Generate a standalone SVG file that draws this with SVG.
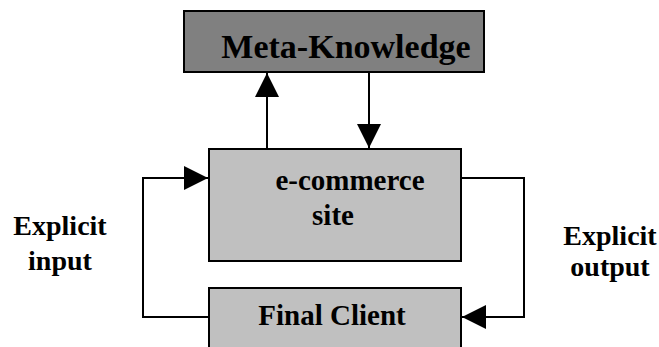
<svg xmlns="http://www.w3.org/2000/svg" width="659" height="347" viewBox="0 0 659 347">
<style>
.box{stroke:#000;stroke-width:2}
.t{font-family:"Liberation Serif","Times New Roman",serif;font-weight:bold;fill:#000;text-anchor:middle}
.c{fill:none;stroke:#000;stroke-width:2}
</style>
<defs>
<marker id="ah" viewBox="0 0 24 24" refX="24" refY="12" markerWidth="24" markerHeight="24" markerUnits="userSpaceOnUse" orient="auto">
<path d="M0,0 L24,12 L0,24 Z" fill="#000"/>
</marker>
</defs>
<rect width="659" height="347" fill="#fff"/>
<g id="connectors">
<path class="c" d="M267,148 V73" marker-end="url(#ah)"/>
<path class="c" d="M369,69 V148" marker-end="url(#ah)"/>
<path class="c" d="M209,317 H143 V178 H208" marker-end="url(#ah)"/>
<path class="c" d="M461,178 H524 V317 H462" marker-end="url(#ah)"/>
</g>
<g id="meta-knowledge">
<rect class="box" x="184" y="11" width="300" height="61" fill="#808080"/>
<text class="t" x="346" y="58" font-size="34">Meta-Knowledge</text>
</g>
<g id="ecommerce-site">
<rect class="box" x="209" y="149" width="252" height="112" fill="#c0c0c0"/>
<text class="t" x="350" y="190" font-size="29">e-commerce</text>
<text class="t" x="333" y="225" font-size="29">site</text>
</g>
<g id="final-client">
<rect class="box" x="209" y="288" width="252" height="70" fill="#c0c0c0"/>
<text class="t" x="332" y="325" font-size="29">Final Client</text>
</g>
<g id="explicit-input">
<text class="t" x="60" y="235" font-size="28">Explicit</text>
<text class="t" x="60" y="270" font-size="28">input</text>
</g>
<g id="explicit-output">
<text class="t" x="610" y="245" font-size="28">Explicit</text>
<text class="t" x="610" y="276" font-size="28">output</text>
</g>
</svg>
